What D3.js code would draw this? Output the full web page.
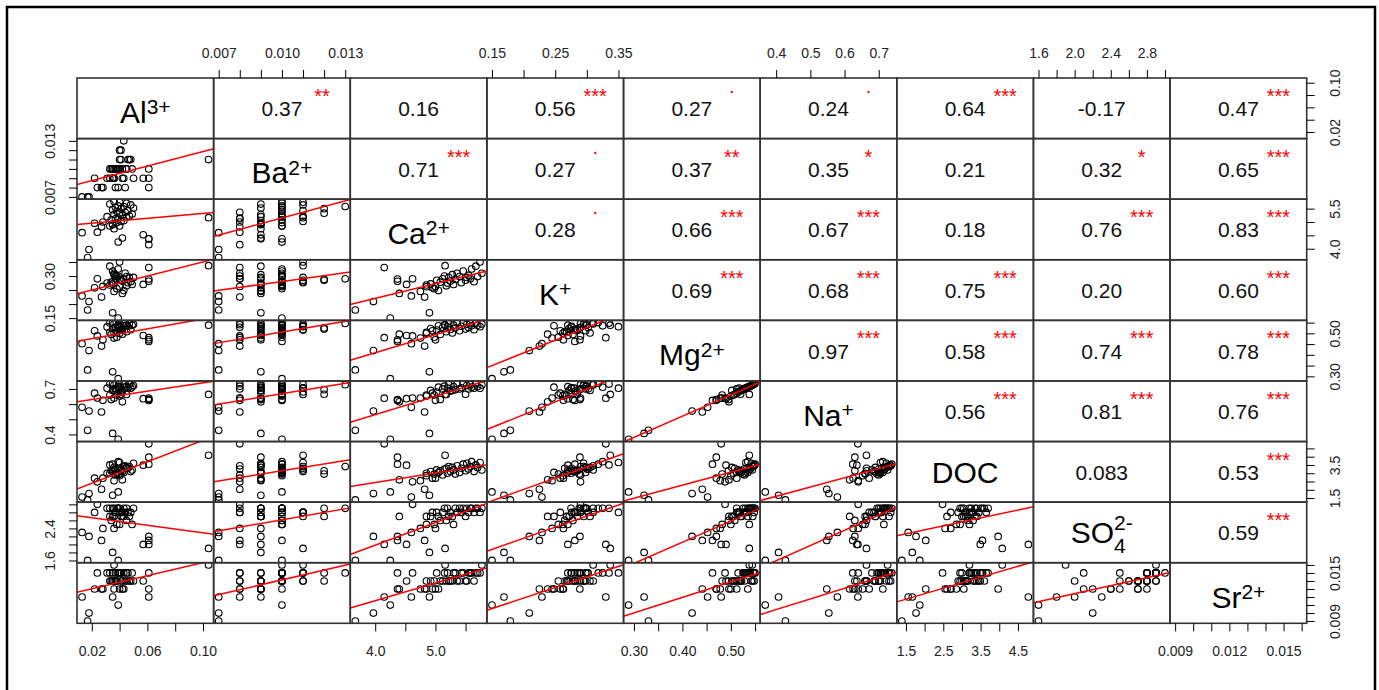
<!DOCTYPE html>
<html>
<head>
<meta charset="utf-8">
<script src="https://cdn.jsdelivr.net/npm/d3@7"></script>
<style>
  body { margin: 0; background: #fff; }
  svg text { font-family: "Liberation Sans", Arial, sans-serif; }
</style>
</head>
<body>
<svg id="chart" width="1379" height="690"></svg>
<script>
// Variable names, printed on the diagonal (superscript / subscript parts kept apart).
const varNames = ["Al", "Ba", "Ca", "K", "Mg", "Na", "DOC", "SO", "Sr"];
const varSup = ["3+", "2+", "2+", "+", "2+", "+", "", "2-", "2+"];
const varSub = ["", "", "", "", "", "", "", "4", ""];

// One value per sample, same sample order in every array.
const al = [0.039, 0.035, 0.017, 0.018, 0.027, 0.013, 0.104, 0.061, 0.061, 0.061, 0.057,
  0.036, 0.040, 0.024, 0.022, 0.028, 0.033, 0.035, 0.038, 0.041, 0.043, 0.034, 0.037, 0.039, 0.045, 0.031,
  0.047, 0.042, 0.036, 0.049, 0.040, 0.044, 0.038, 0.046, 0.035, 0.041, 0.050, 0.037, 0.043, 0.039, 0.048,
  0.033, 0.045, 0.040, 0.036, 0.042];
const ba = [0.010, 0.009, 0.007, 0.007, 0.008, 0.007, 0.011, 0.008, 0.009, 0.010, 0.009,
  0.009, 0.010, 0.008, 0.009, 0.008, 0.010, 0.009, 0.010, 0.011, 0.009, 0.010, 0.008, 0.008, 0.010, 0.009,
  0.011, 0.010, 0.009, 0.010, 0.012, 0.008, 0.010, 0.011, 0.010, 0.012, 0.009, 0.010, 0.013, 0.010, 0.011,
  0.009, 0.010, 0.011, 0.010, 0.009];
const ca = [4.25, 4.90, 3.67, 3.97, 4.82, 4.60, 5.16, 4.15, 4.37, 4.37, 4.52,
  4.75, 4.85, 4.62, 4.95, 5.00, 4.85, 4.92, 4.98, 5.02, 5.05, 5.08, 5.12, 5.15, 5.18, 5.20,
  5.22, 5.25, 5.28, 5.30, 5.33, 5.36, 5.40, 5.43, 5.46, 5.50, 5.52, 5.55, 5.58, 5.60, 5.64,
  5.67, 5.70, 5.74, 5.77, 4.40];
const k = [0.150, 0.169, 0.179, 0.209, 0.225, 0.229, 0.337, 0.330, 0.289, 0.281, 0.270,
  0.245, 0.262, 0.290, 0.258, 0.263, 0.268, 0.272, 0.255, 0.285, 0.248, 0.278, 0.290, 0.300, 0.265, 0.275,
  0.295, 0.282, 0.305, 0.270, 0.288, 0.310, 0.298, 0.276, 0.318, 0.285, 0.295, 0.302, 0.290, 0.325, 0.280,
  0.335, 0.298, 0.350, 0.310, 0.238];
const mg = [0.289, 0.321, 0.330, 0.420, 0.441, 0.452, 0.538, 0.480, 0.470, 0.462, 0.490,
  0.478, 0.500, 0.488, 0.512, 0.470, 0.505, 0.522, 0.482, 0.515, 0.535, 0.495, 0.528, 0.540, 0.508, 0.530,
  0.545, 0.518, 0.502, 0.538, 0.525, 0.548, 0.512, 0.533, 0.550, 0.520, 0.542, 0.527, 0.546, 0.535, 0.517,
  0.548, 0.538, 0.531, 0.544, 0.496];
const na = [0.368, 0.407, 0.427, 0.554, 0.548, 0.579, 0.664, 0.639, 0.630, 0.624, 0.636,
  0.640, 0.653, 0.640, 0.672, 0.625, 0.660, 0.690, 0.660, 0.680, 0.712, 0.630, 0.700, 0.718, 0.664, 0.705,
  0.730, 0.686, 0.690, 0.715, 0.695, 0.735, 0.700, 0.708, 0.738, 0.665, 0.722, 0.700, 0.728, 0.712, 0.705,
  0.732, 0.716, 0.705, 0.726, 0.615];
const doc = [1.87, 1.67, 1.39, 1.77, 2.03, 1.56, 4.08, 4.78, 3.97, 3.55, 3.49,
  2.55, 2.85, 2.48, 2.70, 2.70, 3.00, 3.10, 2.95, 3.20, 3.05, 3.15, 2.90, 3.25, 3.30, 3.00,
  3.40, 3.10, 3.35, 3.20, 2.95, 3.45, 3.05, 3.30, 3.55, 3.15, 3.60, 3.25, 3.40, 3.70, 3.10,
  3.50, 3.35, 3.65, 3.20, 2.60];
const so4 = [1.6, 1.8, 1.6, 2.2, 2.1, 2.3, 1.9, 2.0, 2.2, 2.1, 2.0,
  2.4, 2.5, 3.0, 2.8, 2.4, 2.7, 2.7, 2.5, 2.8, 2.7, 2.6, 2.8, 2.9, 2.6, 2.9,
  2.7, 2.8, 2.7, 2.5, 2.9, 2.8, 2.9, 2.8, 2.9, 2.7, 2.9, 2.8, 2.9, 2.9, 2.8,
  2.9, 2.9, 2.8, 2.9, 2.7];
const sr = [0.011, 0.012, 0.009, 0.010, 0.013, 0.012, 0.016, 0.012, 0.013, 0.015, 0.014,
  0.013, 0.013, 0.015, 0.013, 0.013, 0.014, 0.014, 0.014, 0.015, 0.013, 0.014, 0.014, 0.015, 0.014, 0.015,
  0.014, 0.014, 0.014, 0.015, 0.015, 0.014, 0.014, 0.015, 0.015, 0.014, 0.014, 0.015, 0.015, 0.015, 0.014,
  0.015, 0.015, 0.015, 0.016, 0.013];

// Axis ticks for each variable, and which ticks carry a label on the
// horizontal (top/bottom) and vertical (left/right) outer axes.
const ticks = [
  [0.02, 0.04, 0.06, 0.08, 0.10],
  [0.007, 0.008, 0.009, 0.010, 0.011, 0.012, 0.013],
  [4.0, 4.5, 5.0, 5.5],
  [0.15, 0.20, 0.25, 0.30, 0.35],
  [0.30, 0.35, 0.40, 0.45, 0.50, 0.55],
  [0.4, 0.5, 0.6, 0.7],
  [1.5, 2.0, 2.5, 3.0, 3.5, 4.0, 4.5],
  [1.6, 1.8, 2.0, 2.2, 2.4, 2.6, 2.8, 3.0],
  [0.009, 0.010, 0.011, 0.012, 0.013, 0.014, 0.015, 0.016]
];
const hLabels = [
  [0.02, 0.06, 0.10], [0.007, 0.010, 0.013], [4.0, 5.0], [0.15, 0.25, 0.35], [0.30, 0.40, 0.50],
  [0.4, 0.5, 0.6, 0.7], [1.5, 2.5, 3.5, 4.5], [1.6, 2.0, 2.4, 2.8], [0.009, 0.012, 0.015]
];
const vLabels = [
  [0.02, 0.10], [0.007, 0.013], [4.0, 5.5], [0.15, 0.30], [0.30, 0.50],
  [0.4, 0.7], [1.5, 3.5], [1.6, 2.4], [0.009, 0.015]
];
const decimals = [2, 3, 1, 2, 2, 1, 1, 1, 3];

// Upper triangle: correlation coefficients and significance marks, row by row.
const corrText = [
  ["0.37", "0.16", "0.56", "0.27", "0.24", "0.64", "-0.17", "0.47"],
  ["0.71", "0.27", "0.37", "0.35", "0.21", "0.32", "0.65"],
  ["0.28", "0.66", "0.67", "0.18", "0.76", "0.83"],
  ["0.69", "0.68", "0.75", "0.20", "0.60"],
  ["0.97", "0.58", "0.74", "0.78"],
  ["0.56", "0.81", "0.76"],
  ["0.083", "0.53"],
  ["0.59"]
];
const corrStars = [
  ["**", "", "***", ".", ".", "***", "", "***"],
  ["***", ".", "**", "*", "", "*", "***"],
  [".", "***", "***", "", "***", "***"],
  ["***", "***", "***", "", "***"],
  ["***", "***", "***", "***"],
  ["***", "***", "***"],
  ["", "***"],
  ["***"]
];

const data = [al, ba, ca, k, mg, na, doc, so4, sr];
const nVar = data.length;

const svg = d3.select("#chart");
const grid = { left: 77, top: 78, right: 1306.7, bottom: 623.3 };
const cw = (grid.right - grid.left) / nVar;
const ch = (grid.bottom - grid.top) / nVar;

// Outer frame round the figure.
svg.append("rect")
  .attr("x", 7).attr("y", 7).attr("width", 1368).attr("height", 700)
  .attr("fill", "none").attr("stroke", "#000").attr("stroke-width", 2.5);

// Each variable spans its data range plus 4% on each side (like R's default).
const xs = data.map((vals, i) => {
  const [lo, hi] = d3.extent(vals);
  const pad = (hi - lo) * 0.04;
  return d3.scaleLinear().domain([lo - pad, hi + pad])
    .range([grid.left + i * cw, grid.left + (i + 1) * cw]);
});
const ys = data.map((vals, i) => {
  const [lo, hi] = d3.extent(vals);
  const pad = (hi - lo) * 0.04;
  return d3.scaleLinear().domain([lo - pad, hi + pad])
    .range([grid.top + (i + 1) * ch, grid.top + i * ch]);
});

function linearFit(xv, yv) {
  const mx = d3.mean(xv), my = d3.mean(yv);
  let sxy = 0, sxx = 0;
  xv.forEach((x, t) => { sxy += (x - mx) * (yv[t] - my); sxx += (x - mx) * (x - mx); });
  const b = sxy / sxx;
  return { a: my - b * mx, b: b };
}

const defs = svg.append("defs");

for (let i = 0; i < nVar; i++) {
  for (let j = 0; j < nVar; j++) {
    const x0 = grid.left + j * cw, y0 = grid.top + i * ch;
    const cx = x0 + cw / 2, cy = y0 + ch / 2;

    if (i > j) {
      // Lower triangle: scatter with a least-squares line.
      const clipId = `clip-${i}-${j}`;
      defs.append("clipPath").attr("id", clipId)
        .append("rect").attr("x", x0).attr("y", y0).attr("width", cw).attr("height", ch);
      const g = svg.append("g").attr("clip-path", `url(#${clipId})`);
      const xv = data[j], yv = data[i];

      g.selectAll("circle")
        .data(xv.map((x, t) => [x, yv[t]]))
        .join("circle")
        .attr("cx", d => xs[j](d[0]))
        .attr("cy", d => ys[i](d[1]))
        .attr("r", 3.3)
        .attr("fill", "none")
        .attr("stroke", "#000")
        .attr("stroke-width", 1.1);

      const fit = linearFit(xv, yv);
      const dom = xs[j].domain();
      g.append("path")
        .datum(dom.map(x => [x, fit.a + fit.b * x]))
        .attr("d", d3.line().x(d => xs[j](d[0])).y(d => ys[i](d[1])))
        .attr("stroke", "#ff0000")
        .attr("stroke-width", 1.5)
        .attr("fill", "none");
    } else if (i < j) {
      // Upper triangle: correlation coefficient and its stars.
      svg.append("text")
        .attr("x", cx).attr("y", cy + 8)
        .attr("text-anchor", "middle")
        .attr("font-size", 21)
        .attr("fill", "#111")
        .text(corrText[i][j - i - 1]);
      const star = corrStars[i][j - i - 1];
      if (star) {
        svg.append("text")
          .attr("x", cx + 40)
          .attr("y", star === "." ? y0 + 15 : y0 + 25)
          .attr("text-anchor", "middle")
          .attr("font-size", 20)
          .attr("fill", "#ff0000")
          .text(star);
      }
    } else {
      // Diagonal: variable name.
      const sub = varSub[i], sup = varSup[i];
      const off = sub ? 10.5 : (sup ? 14.5 : 11);
      const t = svg.append("text")
        .attr("x", cx).attr("y", cy + off)
        .attr("text-anchor", "middle")
        .attr("font-size", 30)
        .attr("fill", "#000");
      t.append("tspan").text(varNames[i]);
      if (sub) {
        t.append("tspan").attr("font-size", 21).attr("dy", 10.5).text(sub);
        t.append("tspan").attr("font-size", 21).attr("dx", -21 * 0.556).attr("dy", -23.5).text(sup);
      } else if (sup) {
        t.append("tspan").attr("font-size", 21).attr("dy", -8.5).text(sup);
      }
    }
  }
}

// Panel borders.
for (let i = 0; i < nVar; i++) {
  for (let j = 0; j < nVar; j++) {
    svg.append("rect")
      .attr("x", grid.left + j * cw).attr("y", grid.top + i * ch)
      .attr("width", cw).attr("height", ch)
      .attr("fill", "none").attr("stroke", "#333").attr("stroke-width", 1.6);
  }
}

// Outer axes, alternating sides like R's pairs().
const has = (list, v) => list.some(u => Math.abs(u - v) < 1e-9);
data.forEach((vals, i) => {
  const fmt = d3.format(`.${decimals[i]}f`);

  const onTop = i % 2 === 1;
  const hAxis = (onTop ? d3.axisTop(xs[i]) : d3.axisBottom(xs[i]))
    .tickValues(ticks[i]).tickSize(8).tickSizeOuter(0)
    .tickFormat(d => has(hLabels[i], d) ? fmt(d) : "");
  const hg = svg.append("g")
    .attr("transform", `translate(0,${onTop ? grid.top : grid.bottom})`)
    .call(hAxis)
    .attr("font-size", 14)
    .attr("font-family", "Liberation Sans, Arial, sans-serif")
    .attr("color", "#000");
  hg.select(".domain").remove();
  hg.selectAll("text").attr("y", onTop ? -20 : 33).attr("dy", 0).attr("fill", "#222");

  const onLeft = i % 2 === 1;
  const vAxis = (onLeft ? d3.axisLeft(ys[i]) : d3.axisRight(ys[i]))
    .tickValues(ticks[i]).tickSize(8).tickSizeOuter(0)
    .tickFormat(d => has(vLabels[i], d) ? fmt(d) : "");
  const vg = svg.append("g")
    .attr("transform", `translate(${onLeft ? grid.left : grid.right},0)`)
    .call(vAxis)
    .attr("font-size", 14)
    .attr("font-family", "Liberation Sans, Arial, sans-serif")
    .attr("color", "#000");
  vg.select(".domain").remove();
  vg.selectAll("text")
    .attr("transform", "rotate(-90)")
    .attr("x", 0)
    .attr("y", onLeft ? -22 : 33)
    .attr("dy", 0)
    .attr("text-anchor", "middle")
    .attr("fill", "#222");
});
</script>
</body>
</html>
